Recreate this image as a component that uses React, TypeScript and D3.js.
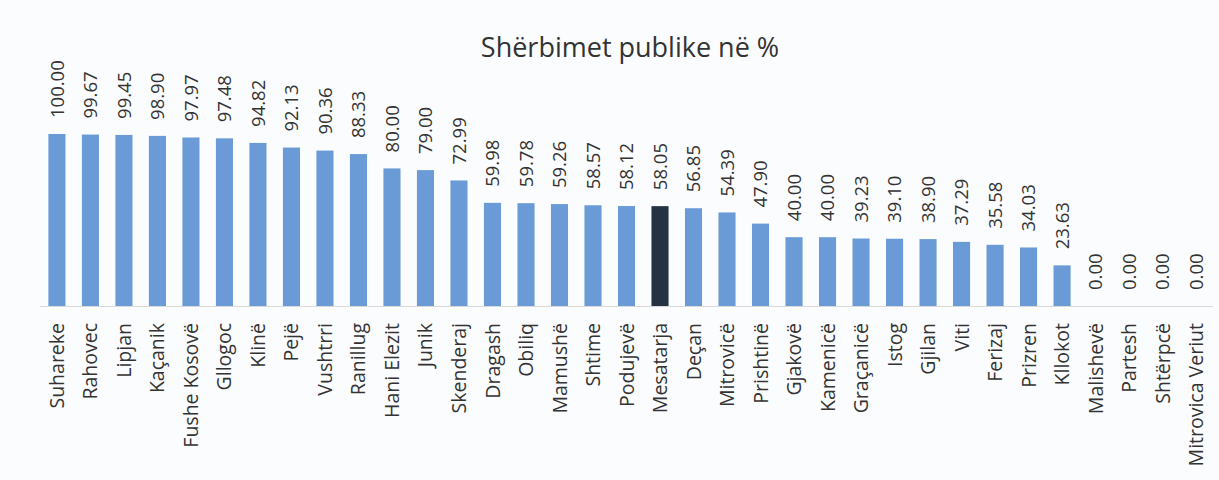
import React from 'react';
import * as d3 from 'd3';

const categories = [
  'Suhareke', 'Rahovec', 'Lipjan', 'Kaçanik', 'Fushe Kosovë', 'Gllogoc', 'Klinë', 'Pejë',
  'Vushtrri', 'Ranillug', 'Hani Elezit', 'Junik', 'Skenderaj', 'Dragash', 'Obiliq', 'Mamushë',
  'Shtime', 'Podujevë', 'Mesatarja', 'Deçan', 'Mitrovicë', 'Prishtinë', 'Gjakovë', 'Kamenicë',
  'Graçanicë', 'Istog', 'Gjilan', 'Viti', 'Ferizaj', 'Prizren', 'Kllokot', 'Malishevë',
  'Partesh', 'Shtërpcë', 'Mitrovica Veriut',
];

const values = [
  100.0, 99.67, 99.45, 98.9, 97.97, 97.48, 94.82, 92.13,
  90.36, 88.33, 80.0, 79.0, 72.99, 59.98, 59.78, 59.26,
  58.57, 58.12, 58.05, 56.85, 54.39, 47.9, 40.0, 40.0,
  39.23, 39.1, 38.9, 37.29, 35.58, 34.03, 23.63, 0.0,
  0.0, 0.0, 0.0,
];

const highlight = ['Mesatarja'];

const title = 'Shërbimet publike në %';

const App = () => {
  const width = 1219;
  const height = 480;
  const baseline = 306;
  const font = '"Open Sans", sans-serif';
  const valueSize = 18.5;
  const labelSize = 19.5;

  const data = categories.map((c, i) => ({ label: c, value: values[i] }));

  const xScale = d3
    .scaleBand()
    .domain(categories)
    .range([40, 1213])
    .paddingInner(0.49)
    .paddingOuter(0.25);

  const yScale = d3.scaleLinear().domain([0, 100]).range([baseline, 134]);

  return (
    <svg
      width={width}
      height={height}
      style={{ position: 'absolute', left: 0, top: 0, background: '#fbfcfe' }}
    >
      <text
        x={630}
        y={57}
        textAnchor="middle"
        fontFamily={font}
        fontSize={27}
        fill="#333"
      >
        {title}
      </text>

      {data.map((d) => (
        <rect
          key={d.label}
          x={xScale(d.label)}
          y={yScale(d.value)}
          width={xScale.bandwidth()}
          height={baseline - yScale(d.value)}
          fill={highlight.includes(d.label) ? '#243242' : '#6b9bd6'}
        />
      ))}

      <line x1={40} x2={1213} y1={baseline + 0.5} y2={baseline + 0.5} stroke="#d9d9d9" />

      {/* value labels */}
      {data.map((d) => {
        const cx = (xScale(d.label) as number) + xScale.bandwidth() / 2 + valueSize * 0.36;
        const y = yScale(d.value) - 16;
        return (
          <text
            key={'v' + d.label}
            transform={`translate(${cx},${y}) rotate(-90)`}
            fontFamily={font}
            fontSize={valueSize}
            fill="#333"
          >
            {d.value.toFixed(2)}
          </text>
        );
      })}

      {/* category labels */}
      {data.map((d) => {
        const cx = (xScale(d.label) as number) + xScale.bandwidth() / 2 + labelSize * 0.36;
        return (
          <text
            key={'c' + d.label}
            transform={`translate(${cx},${baseline + 17}) rotate(-90)`}
            textAnchor="end"
            fontFamily={font}
            fontSize={labelSize}
            fill="#333"
          >
            {d.label}
          </text>
        );
      })}
    </svg>
  );
};

export default App;
